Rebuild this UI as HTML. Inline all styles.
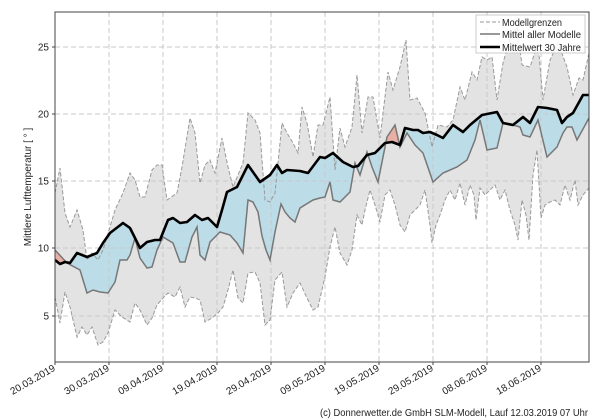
<!DOCTYPE html>
<html><head><meta charset="utf-8"><style>
html,body{margin:0;padding:0;background:#fff;}
svg{display:block;font-family:"Liberation Sans","DejaVu Sans",sans-serif;}
</style></head><body>
<svg id="s" width="600" height="420" viewBox="0 0 600 420" xmlns="http://www.w3.org/2000/svg">
<defs>
<clipPath id="plot"><rect x="55" y="12" width="534" height="350"/></clipPath>
<clipPath id="below"><path id="cb"/></clipPath>
<clipPath id="above"><path id="ca"/></clipPath>
</defs>
<rect width="600" height="420" fill="#fff"/>
<g clip-path="url(#plot)">
<path id="env" fill="#e3e3e3" stroke="none"/>
<path id="fb" fill="#bcdce8" clip-path="url(#below)"/>
<path id="fr" fill="#e8b0a5" clip-path="url(#above)"/>
<g id="grid" stroke="#c8c8c8" stroke-width="1" stroke-dasharray="5,3"></g>
<path id="up" fill="none" stroke="#999" stroke-width="1" stroke-dasharray="4,2"/>
<path id="lo" fill="none" stroke="#999" stroke-width="1" stroke-dasharray="4,2"/>
<path id="mn" fill="none" stroke="#777" stroke-width="1.5"/>
<path id="cl" fill="none" stroke="#000" stroke-width="2.6" stroke-linejoin="round"/>
</g>
<rect x="55" y="12" width="534" height="350" fill="none" stroke="#444" stroke-width="1"/>
<g id="ticks" font-size="10" fill="#222"></g>
<text transform="translate(31,187) rotate(-90)" text-anchor="middle" font-size="10" fill="#222">Mittlere Lufttemperatur [ ° ]</text>
<g>
<rect x="476" y="15" width="109" height="38" fill="#fff" fill-opacity="0.85" stroke="#ccc"/>
<line x1="480" y1="22" x2="500" y2="22" stroke="#999" stroke-dasharray="4,2"/>
<line x1="480" y1="34" x2="500" y2="34" stroke="#777" stroke-width="1.5"/>
<line x1="480" y1="47" x2="500" y2="47" stroke="#000" stroke-width="2.6"/>
<text x="502" y="26" font-size="10" fill="#222" textLength="60" lengthAdjust="spacingAndGlyphs">Modellgrenzen</text>
<text x="502" y="38" font-size="10" fill="#222" textLength="79" lengthAdjust="spacingAndGlyphs">Mittel aller Modelle</text>
<text x="502" y="51" font-size="10" fill="#222" textLength="79" lengthAdjust="spacingAndGlyphs">Mittelwert 30 Jahre</text>
</g>
<text x="320" y="416" font-size="10" fill="#222" textLength="268" lengthAdjust="spacingAndGlyphs">(c) Donnerwetter.de GmbH SLM-Modell, Lauf 12.03.2019 07 Uhr</text>
</svg>
<script>
var up=[[55,193],[60,168],[65,213],[70,227],[77,210],[83,230],[87,260],[92,253],[98,260],[103,250],[110,227],[115,210],[123,193],[130,173],[135,180],[140,197],[145,197],[152,170],[157,165],[162,165],[167,200],[177,193],[182,167],[190,118],[195,133],[200,183],[205,165],[210,160],[215,173],[222,138],[228,167],[233,187],[243,163],[248,113],[255,120],[260,133],[265,200],[270,202],[275,193],[282,123],[287,133],[293,143],[298,153],[302,107],[307,123],[313,157],[318,125],[323,125],[330,97],[335,170],[340,128],[345,147],[352,127],[357,75],[362,133],[368,97],[373,97],[380,138],[388,72],[393,90],[400,67],[406,40],[410,100],[417,98],[425,113],[432,147],[438,125],[447,127],[453,120],[460,87],[465,100],[472,72],[477,80],[482,57],[487,60],[492,57],[497,100],[503,63],[510,38],[517,27],[522,65],[530,67],[538,43],[543,100],[550,60],[558,43],[567,67],[573,95],[579,78],[583,80],[589,53]];
var lo=[[55,297],[60,323],[65,292],[70,307],[77,337],[82,327],[87,335],[92,327],[98,345],[103,342],[108,333],[115,310],[122,317],[130,322],[135,303],[140,310],[147,325],[152,318],[157,305],[163,298],[168,293],[175,297],[180,287],[185,307],[190,297],[195,298],[200,300],[205,322],[212,318],[218,313],[223,307],[228,290],[233,270],[238,298],[243,303],[248,273],[255,272],[260,283],[265,325],[270,320],[275,280],[282,272],[287,307],[293,293],[300,283],[307,298],[313,310],[318,307],[325,277],[330,247],[335,227],[340,253],[347,265],[352,250],[357,215],[362,225],[365,210],[370,190],[375,205],[380,222],[385,195],[390,190],[395,205],[400,225],[405,232],[410,215],[415,210],[420,205],[425,190],[430,225],[432,243],[436,225],[440,215],[445,200],[450,190],[455,200],[460,183],[465,205],[470,185],[474,195],[476,220],[480,188],[485,195],[490,190],[495,185],[500,200],[505,190],[510,210],[515,225],[518,240],[522,200],[526,215],[529,240],[533,175],[537,150],[541,218],[545,205],[550,202],[555,200],[560,205],[565,185],[570,200],[575,180],[578,205],[583,195],[589,188]];
var mn=[[55,250],[67,263],[80,270],[87,293],[93,290],[100,292],[108,293],[115,282],[120,260],[127,260],[130,255],[135,238],[140,258],[147,268],[152,267],[157,250],[163,237],[173,243],[180,262],[185,262],[192,237],[197,227],[200,255],[205,260],[210,242],[220,232],[230,235],[237,243],[243,253],[248,200],[253,202],[258,212],[262,236],[266,250],[270,260],[275,232],[281,204],[285,212],[290,218],[295,222],[300,208],[313,200],[320,198],[325,197],[330,182],[333,200],[340,202],[350,192],[355,163],[360,175],[367,152],[372,167],[378,182],[387,137],[395,125],[400,147],[407,133],[415,145],[423,153],[433,182],[443,173],[457,167],[467,160],[475,140],[480,120],[487,150],[497,148],[503,123],[513,125],[520,127],[523,135],[530,137],[538,120],[547,157],[557,147],[563,133],[567,127],[572,127],[577,140],[589,118]];
var cl=[[55,260],[60,264],[65,262],[70,263],[77,253],[87,257],[97,253],[103,243],[110,233],[123,223],[130,228],[140,248],[147,242],[155,240],[160,240],[168,220],[173,218],[180,223],[187,222],[195,215],[202,220],[208,218],[217,227],[222,210],[227,192],[237,187],[248,165],[260,182],[270,175],[277,165],[282,173],[287,170],[300,171],[308,173],[320,157],[325,158],[333,153],[343,162],[353,167],[358,166],[367,155],[375,153],[385,143],[392,142],[400,145],[405,128],[413,130],[418,130],[423,133],[430,132],[437,135],[443,138],[453,125],[463,132],[470,125],[482,115],[497,112],[503,123],[513,125],[523,117],[530,123],[538,107],[547,108],[557,110],[562,123],[567,117],[573,113],[583,95],[589,95]];
function P(a){return a.map(function(p,i){return (i?'L':'M')+p[0]+','+p[1];}).join('');}
function R(a){return a.slice().reverse().map(function(p){return 'L'+p[0]+','+p[1];}).join('');}
function $(i){return document.getElementById(i);}
$('up').setAttribute('d',P(up));$('lo').setAttribute('d',P(lo));
$('mn').setAttribute('d',P(mn));$('cl').setAttribute('d',P(cl));
$('env').setAttribute('d',P(up)+R(lo)+'Z');
var band=P(mn)+R(cl)+'Z';
$('fb').setAttribute('d',band);$('fr').setAttribute('d',band);
$('cb').setAttribute('d',P(cl)+'L589,420L55,420Z');
$('ca').setAttribute('d',P(cl)+'L589,0L55,0Z');
var NS='http://www.w3.org/2000/svg',g=$('grid'),t=$('ticks');
function el(n,at,p,tx){var e=document.createElementNS(NS,n);for(var k in at)e.setAttribute(k,at[k]);if(tx)e.textContent=tx;p.appendChild(e);return e;}
var ys=[[5,316],[10,248],[15,181],[20,114],[25,47]];
ys.forEach(function(y){el('line',{x1:55,x2:589,y1:y[1],y2:y[1]},g);el('line',{x1:52,x2:55,y1:y[1],y2:y[1],stroke:'#444'},t);el('text',{x:49,y:y[1]+3.5,'text-anchor':'end'},t,String(y[0]));});
var xl=['20.03.2019','30.03.2019','09.04.2019','19.04.2019','29.04.2019','09.05.2019','19.05.2019','29.05.2019','08.06.2019','18.06.2019'];
xl.forEach(function(l,i){var x=55+i*54;if(i)el('line',{x1:x,x2:x,y1:12,y2:362},g);el('line',{x1:x,x2:x,y1:362,y2:365,stroke:'#444'},t);el('text',{transform:'translate('+(x+1)+',370) rotate(-30)','text-anchor':'end'},t,l);});
</script>
</body></html>
